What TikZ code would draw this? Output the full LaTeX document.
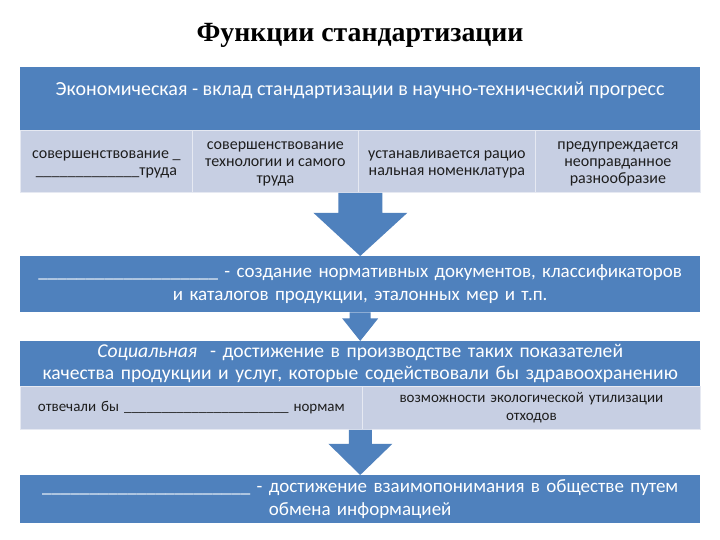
\documentclass[tikz,border=0pt]{standalone}
\usepackage{fontspec}
\setmainfont{Carlito}
\newfontfamily\titlefont{Liberation Serif}
\usetikzlibrary{calc}
\definecolor{darkb}{RGB}{79,129,189}
\definecolor{lightb}{RGB}{199,207,227}
\definecolor{celltext}{RGB}{30,30,30}
\tikzset{
  dbox/.style={fill=darkb, draw=none, anchor=north west, inner sep=0pt},
  lbox/.style={fill=lightb, draw=white!55!lightb, line width=0.8pt, anchor=north west, inner sep=0pt},
  wtext/.style={text=white, font=\fontsize{19}{23}\selectfont, align=center},
  ctext/.style={text=celltext, font=\fontsize{16}{17}\selectfont, align=center},
  stext/.style={text=celltext, font=\fontsize{15}{18}\selectfont, align=center},
  blockarrow/.style={fill=darkb, draw=none},
}
\begin{document}
\begin{tikzpicture}[x=1pt,y=-1pt]
\useasboundingbox (0,0) rectangle (720,540);
\fill[white] (0,0) rectangle (720,540);
% title
\node[font=\titlefont\bfseries\fontsize{27.8}{32}\selectfont] (title) at (360,35) {Функции стандартизации};
% box 1
\node[dbox, minimum width=680, minimum height=63] (b1) at (20,67) {};
\node[wtext, font=\fontsize{20}{24}\selectfont] (h1) at (360,90) {Экономическая - вклад стандартизации в научно-технический прогресс};
\node[lbox, minimum width=680, minimum height=62] (r1) at (20,130) {};
\node[lbox, minimum width=172, minimum height=62, text width=168, ctext] (c1) at (20,130) {};
\node[lbox, minimum width=166, minimum height=62, text width=162, ctext] (c2) at (192,130) {};
\node[lbox, minimum width=177, minimum height=62, text width=173, ctext] (c3) at (358,130) {};
\node[lbox, minimum width=165, minimum height=62, text width=162, ctext] (c4) at (535,130) {};
\node[ctext] (t1) at ($(c1.center)+(0,3)$) {совершенствование \_\\\_\_\_\_\_\_\_\_\_\_\_\_\_труда};
\node[ctext] (t2) at ($(c2.center)+(0,3)$) {совершенствование\\технологии и самого\\труда};
\node[ctext] (t3) at ($(c3.center)+(0,3)$) {устанавливается рацио\\нальная номенклатура};
\node[ctext] (t4) at ($(c4.center)+(0,3)$) {предупреждается\\неоправданное\\разнообразие};
% box 2
\node[dbox, minimum width=680, minimum height=56, text width=676, wtext] (b2) at (20,256) {\_\_\_\_\_\_\_\_\_\_\_\_\_\_\_\_\_\_\_ - создание нормативных документов, классификаторов\\и каталогов продукции, эталонных мер и т.п.};
% box 3
\node[dbox, minimum width=680, minimum height=45, text width=676, wtext, font=\fontsize{19.6}{22}\selectfont] (b3) at (20,341) {\textit{Социальная} \ - достижение в производстве таких показателей\\качества продукции и услуг, которые содействовали бы здравоохранению};
\node[lbox, minimum width=680, minimum height=43] (r3) at (20,386) {};
\node[lbox, minimum width=342, minimum height=43, text width=338, stext] (d1) at (20,386) {отвечали бы \_\_\_\_\_\_\_\_\_\_\_\_\_\_\_\_\_\_\_\_\_\_ нормам};
\node[lbox, minimum width=338, minimum height=43, text width=334, stext] (d2) at (362,386) {возможности экологической утилизации\\отходов};
% box 4
\node[dbox, minimum width=680, minimum height=48, text width=676, wtext] (b4) at (20,475) {\_\_\_\_\_\_\_\_\_\_\_\_\_\_\_\_\_\_\_\_\_\_ - достижение взаимопонимания в обществе путем\\обмена информацией};
% arrows
\fill[blockarrow] ($(r1.south)+(-22,0)$) -- ($(r1.south)+(22,0)$) -- ($(r1.south)+(22,20)$) -- ($(r1.south)+(47,20)$) -- (b2.north) -- ($(r1.south)+(-47,20)$) -- ($(r1.south)+(-22,20)$) -- cycle;
\fill[blockarrow] ($(b2.south)+(-10.5,0)$) -- ($(b2.south)+(10.5,0)$) -- ($(b2.south)+(10.5,6)$) -- ($(b2.south)+(18,6)$) -- (b3.north) -- ($(b2.south)+(-18,6)$) -- ($(b2.south)+(-10.5,6)$) -- cycle;
\fill[blockarrow] ($(r3.south)+(-11.5,0)$) -- ($(r3.south)+(11.5,0)$) -- ($(r3.south)+(11.5,14)$) -- ($(r3.south)+(32,14)$) -- (b4.north) -- ($(r3.south)+(-32,14)$) -- ($(r3.south)+(-11.5,14)$) -- cycle;
\end{tikzpicture}
\end{document}
